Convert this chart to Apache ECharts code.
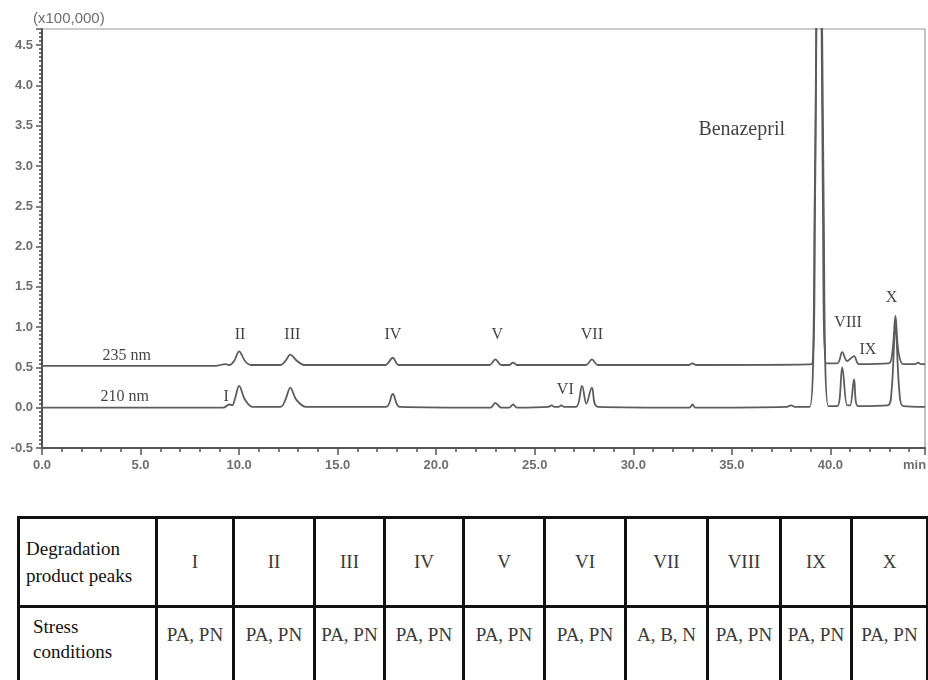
<!DOCTYPE html>
<html>
<head>
<meta charset="utf-8">
<script src="https://cdn.jsdelivr.net/npm/echarts@6/dist/echarts.min.js"></script>
<style>
  html, body { margin: 0; padding: 0; background: #fff; }
  #wrap { position: relative; width: 928px; height: 680px; overflow: hidden; }
  #chart { position: absolute; left: 0; top: 0; width: 928px; height: 500px; }
  #tbl { position: absolute; left: 17px; top: 516px; border-collapse: collapse;
         font-family: 'Liberation Serif', 'DejaVu Serif', serif; font-size: 19px; color: #3a3a3a; table-layout: fixed; }
  #tbl td { border: 3px solid #111; text-align: center; padding: 0; white-space: nowrap; overflow: visible; }
  #tbl tr.r1 td { height: 86px; vertical-align: middle; }
  #tbl tr.r2 td { height: 110px; vertical-align: top; padding-top: 16px; }
  #tbl td.head { text-align: left; color: #111; white-space: normal; line-height: 27px; }
  #tbl tr.r1 td.head { padding-left: 6px; }
  #tbl tr.r2 td.head { padding-left: 13px; padding-top: 6px; line-height: 25px; }
</style>
</head>
<body>
<div id="wrap">
  <div id="chart"></div>
  <table id="tbl"></table>
</div>
<script>
// ---- Data (time in min, signal in x100,000) ----
const t235 = [0, 8.8, 9.3, 9.5, 9.75, 10.0, 10.3, 10.6, 12.1, 12.35, 12.6, 12.9, 13.3, 17.4, 17.8, 18.1,
  22.7, 23.0, 23.3, 23.7, 23.9, 24.1, 27.6, 27.9, 28.2, 32.8, 33.0, 33.2, 39.05, 39.22, 39.42, 39.62, 39.8,
  40.35, 40.6, 40.85, 41.2, 41.45, 42.95, 43.15, 43.3, 43.45, 43.7, 44.3, 44.45, 44.6, 44.8];
const v235 = [0.52, 0.52, 0.54, 0.53, 0.58, 0.70, 0.58, 0.53, 0.53, 0.58, 0.66, 0.59, 0.53, 0.53, 0.62, 0.53,
  0.53, 0.60, 0.53, 0.53, 0.56, 0.53, 0.53, 0.60, 0.53, 0.53, 0.55, 0.53, 0.54, 2.5, 9.0, 2.5, 0.55,
  0.55, 0.69, 0.58, 0.64, 0.54, 0.55, 0.70, 1.14, 0.70, 0.54, 0.54, 0.56, 0.54, 0.54];

const t210 = [0, 9.2, 9.5, 9.65, 9.8, 10.0, 10.3, 10.7, 12.1, 12.35, 12.6, 12.9, 13.4, 17.45, 17.8, 18.15,
  22.75, 23.0, 23.3, 23.7, 23.9, 24.1, 25.7, 25.85, 26.0, 26.2, 26.35, 26.5, 27.1, 27.4, 27.62, 27.9, 28.2,
  32.85, 33.0, 33.15, 37.8, 38.0, 38.2, 38.95, 39.2, 39.43, 39.66, 39.9, 40.35, 40.6, 40.85, 41.0, 41.2, 41.4,
  42.9, 43.1, 43.3, 43.5, 43.7, 44.8];
const v210 = [0.0, 0.0, 0.04, 0.03, 0.12, 0.27, 0.10, 0.01, 0.01, 0.10, 0.25, 0.10, 0.01, 0.01, 0.17, 0.01,
  0.0, 0.06, 0.0, 0.0, 0.04, 0.0, 0.01, 0.03, 0.01, 0.01, 0.03, 0.01, 0.01, 0.27, 0.05, 0.25, 0.01,
  0.0, 0.04, 0.0, 0.01, 0.03, 0.01, 0.01, 2.5, 9.0, 2.5, 0.02, 0.02, 0.50, 0.03, 0.03, 0.35, 0.02,
  0.03, 0.20, 1.02, 0.20, 0.02, 0.01];

// Annotations (text, retention time, signal)
const annText = ['235 nm', '210 nm', 'I', 'II', 'III', 'IV', 'V', 'VI', 'VII', 'VIII', 'IX', 'X', 'Benazepril'];
const annX    = [4.3, 4.2, 9.35, 10.05, 12.7, 17.8, 23.1, 26.55, 27.9, 40.9, 41.9, 43.1, 35.5];
const annY    = [0.65, 0.14, 0.14, 0.90, 0.90, 0.90, 0.90, 0.225, 0.90, 1.05, 0.72, 1.36, 3.45];

// Table
const tblHead = ['I', 'II', 'III', 'IV', 'V', 'VI', 'VII', 'VIII', 'IX', 'X'];
const tblCond = ['PA, PN', 'PA, PN', 'PA, PN', 'PA, PN', 'PA, PN', 'PA, PN', 'A, B, N', 'PA, PN', 'PA, PN', 'PA, PN'];
const colW = [138, 77, 81, 70, 79, 81, 81, 82, 73, 71, 76];

// ---- Build table ----
(function () {
  const tbl = document.getElementById('tbl');
  let cg = '<colgroup>' + colW.map(w => '<col style="width:' + w + 'px">').join('') + '</colgroup>';
  let r1 = '<tr class="r1"><td class="head">Degradation<br>product peaks</td>' + tblHead.map(h => '<td>' + h + '</td>').join('') + '</tr>';
  let r2 = '<tr class="r2"><td class="head">Stress<br>conditions</td>' + tblCond.map(h => '<td>' + h + '</td>').join('') + '</tr>';
  tbl.style.width = colW.reduce((a, b) => a + b, 0) + 'px';
  tbl.innerHTML = cg + r1 + r2;
})();

// ---- Chart ----
const zip = (a, b) => a.map((x, i) => [x, b[i]]);
const chart = echarts.init(document.getElementById('chart'), null, { renderer: 'canvas' });
const axisFont = { fontFamily: 'Liberation Sans, Arial, sans-serif', fontSize: 13, color: '#6e6e6e', fontWeight: 'bold' };
const lineStyle = { color: '#5c5c5c', width: 1.8 };

chart.setOption({
  animation: false,
  grid: { left: 42, right: 3, top: 29, bottom: 52, show: true, borderColor: '#999', borderWidth: 1.2 },
  xAxis: {
    type: 'value', min: 0, max: 44.8, interval: 5,
    axisLine: { onZero: false, lineStyle: { color: '#555', width: 2 } },
    axisTick: { length: 7, lineStyle: { color: '#555', width: 1.5 } },
    minorTick: { show: true, splitNumber: 5, length: 4, lineStyle: { color: '#555', width: 1.5 } },
    axisLabel: Object.assign({ margin: 11, showMaxLabel: false,
      formatter: v => (Math.abs(v / 5 - Math.round(v / 5)) < 1e-6 ? v.toFixed(1) : '') }, axisFont),
    splitLine: { show: false }
  },
  yAxis: {
    type: 'value', min: -0.5, max: 4.7, interval: 0.5,
    name: '(x100,000)', nameLocation: 'end', nameGap: 3,
    nameTextStyle: Object.assign({}, axisFont, { align: 'left', padding: [0, 0, 0, -9], fontWeight: 'normal', fontSize: 15 }),
    axisLine: { onZero: false, lineStyle: { color: '#555', width: 2 } },
    axisTick: { length: 6, lineStyle: { color: '#555', width: 1.5 } },
    minorTick: { show: true, splitNumber: 10, length: 3, lineStyle: { color: '#444', width: 1.5 } },
    axisLabel: Object.assign({ margin: 9, showMaxLabel: false,
      formatter: v => (Math.abs(v * 2 - Math.round(v * 2)) < 1e-6 ? v.toFixed(1) : '') }, axisFont),
    splitLine: { show: false }
  },
  graphic: [{
    type: 'text', left: 903, top: 459,
    style: { text: 'min', font: 'bold 13px Liberation Sans, Arial, sans-serif', fill: '#6e6e6e' }
  }],
  series: [
    { name: '235 nm', type: 'line', data: zip(t235, v235), showSymbol: false, smooth: 0.35,
      lineStyle: lineStyle, clip: true, z: 3 },
    { name: '210 nm', type: 'line', data: zip(t210, v210), showSymbol: false, smooth: 0.35,
      lineStyle: lineStyle, clip: true, z: 3 },
    { name: 'labels', type: 'scatter', symbolSize: 0, silent: true, z: 5,
      data: annText.map((t, i) => ({
        name: t, value: [annX[i], annY[i]],
        label: {
          show: true, position: 'inside', formatter: '{b}',
          fontFamily: 'Liberation Serif, DejaVu Serif, serif',
          fontSize: t === 'Benazepril' ? 20 : 16, color: '#111'
        }
      }))
    }
  ]
});
</script>
</body>
</html>
